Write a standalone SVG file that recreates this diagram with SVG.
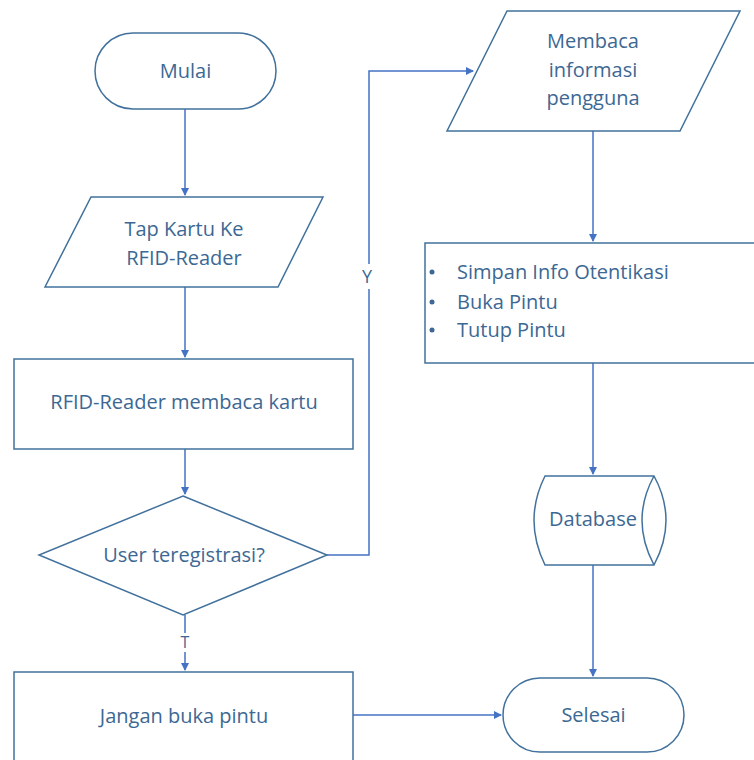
<svg xmlns="http://www.w3.org/2000/svg" width="754" height="760" viewBox="0 0 754 760">
<defs>
<marker id="arr" markerWidth="10" markerHeight="10" refX="8" refY="5" orient="auto" markerUnits="userSpaceOnUse">
<path d="M1,1 L9,5 L1,9 Z" fill="#4472C4"/>
</marker>
<style>
.s{fill:#fff;stroke:#41719C;stroke-width:1.5}
.c{fill:none;stroke:#4472C4;stroke-width:1.5}
.t{font-family:"Open Sans","Noto Sans",sans-serif;font-size:20px;fill:#3C6893;text-anchor:middle}
.l{font-family:"Open Sans","Noto Sans",sans-serif;font-size:20px;fill:#3C6893}
</style>
</defs>
<rect width="754" height="760" fill="#fff"/>
<g id="connectors">
<path class="c" d="M185,109 V195" marker-end="url(#arr)"/>
<path class="c" d="M185,287 V357" marker-end="url(#arr)"/>
<path class="c" d="M185,449 V494" marker-end="url(#arr)"/>
<path class="c" d="M185,615 V633 M185,652 V670" marker-end="url(#arr)"/>
<path class="c" d="M327,555 H369 V289 M369,264 V71 H473" marker-end="url(#arr)"/>
<path class="c" d="M593,131 V241" marker-end="url(#arr)"/>
<path class="c" d="M593,363 V474" marker-end="url(#arr)"/>
<path class="c" d="M593,565 V676" marker-end="url(#arr)"/>
<path class="c" d="M353,715 H501" marker-end="url(#arr)"/>
<text class="t" x="185" y="648" style="font-size:16px">T</text>
<text class="t" x="367" y="283" style="font-size:18px">Y</text>
</g>
<g id="mulai">
<rect class="s" x="95" y="33" width="181" height="76" rx="38"/>
<text class="t" x="185.5" y="78">Mulai</text>
</g>
<g id="tap">
<path class="s" d="M91,197 H323 L278,287 H45 Z"/>
<text class="t" x="184" y="236">Tap Kartu Ke</text>
<text class="t" x="184" y="265">RFID-Reader</text>
</g>
<g id="rfid">
<rect class="s" x="14" y="359" width="339" height="90"/>
<text class="t" x="184" y="409">RFID-Reader membaca kartu</text>
</g>
<g id="decision">
<path class="s" d="M183,496 L327,555 L183,615 L39,555 Z"/>
<text class="t" x="184" y="562">User teregistrasi?</text>
</g>
<g id="jangan">
<rect class="s" x="14" y="672" width="339" height="100"/>
<text class="t" x="184" y="723">Jangan buka pintu</text>
</g>
<g id="membaca">
<path class="s" d="M507,11 H740 L680,131 H447 Z"/>
<text class="t" x="593" y="48">Membaca</text>
<text class="t" x="593" y="77">informasi</text>
<text class="t" x="593" y="105">pengguna</text>
</g>
<g id="simpan">
<rect class="s" x="425" y="243" width="340" height="120"/>
<circle cx="432" cy="272" r="2.5" fill="#3C6893"/>
<circle cx="432" cy="302" r="2.5" fill="#3C6893"/>
<circle cx="432" cy="330" r="2.5" fill="#3C6893"/>
<text class="l" x="457" y="279">Simpan Info Otentikasi</text>
<text class="l" x="457" y="309">Buka Pintu</text>
<text class="l" x="457" y="337">Tutup Pintu</text>
</g>
<g id="database">
<path class="s" d="M545,476 H654 Q678,520 654,565 H545 Q523,520 545,476 Z"/>
<path class="s" fill="none" d="M654,476 Q630,520 654,565"/>
<text class="t" x="593" y="526">Database</text>
</g>
<g id="selesai">
<rect class="s" x="503" y="678" width="181" height="74" rx="37"/>
<text class="t" x="593.5" y="722">Selesai</text>
</g>
</svg>
